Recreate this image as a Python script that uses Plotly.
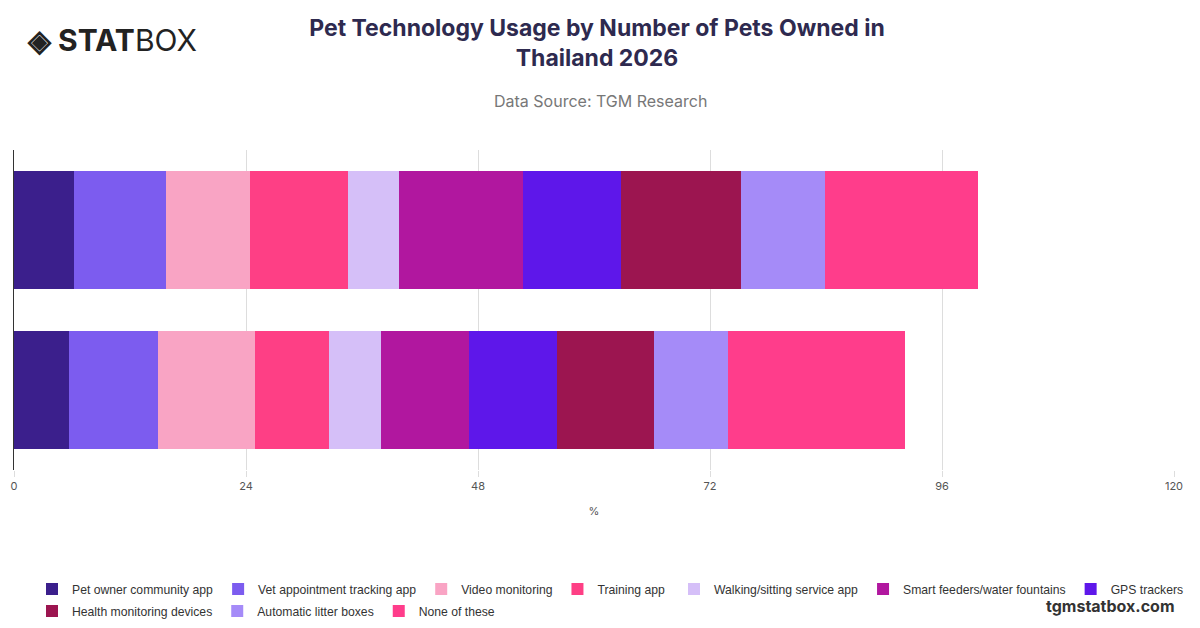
import plotly.graph_objects as go

categories = ["1 pet", "2+ pets"]
series = ["Pet owner community app", "Vet appointment tracking app", "Video monitoring", "Training app",
          "Walking/sitting service app", "Smart feeders/water fountains", "GPS trackers",
          "Health monitoring devices", "Automatic litter boxes", "None of these"]
values_top = [6.2, 9.5, 8.7, 10.1, 5.3, 12.9, 10.1, 12.4, 8.7, 15.8]
values_bottom = [5.7, 9.2, 10.0, 7.7, 5.4, 9.1, 9.1, 10.0, 7.7, 18.3]
colors = ["#3b1f8c", "#7c5cef", "#f9a4c4", "#fe3f85", "#d5bff8", "#b1179f", "#5e17ea", "#9c1550", "#a58bf8", "#ff3d8b"]

fig = go.Figure()
for i, name in enumerate(series):
    leg = "legend" if i < 4 else ("legend2" if i < 7 else "legend3")
    fig.add_trace(go.Bar(orientation="h", name=name, y=[categories[1], categories[0]],
                         x=[values_bottom[i], values_top[i]], marker=dict(color=colors[i], line_width=0),
                         legend=leg))

O = 8
L, R, T, B = 14 - O, 1174 - O, 150 - O, 470 - O
legfont = dict(size=12.2, color="#333", family="Liberation Sans, Arial, sans-serif")
def legd(xpix, ypix):
    return dict(orientation="h", x=(xpix - O) / 1200, y=1 - (ypix - O) / 628, xref="container", yref="container",
                xanchor="left", yanchor="middle", font=legfont, traceorder="normal", itemwidth=30)
fig.update_layout(
    barmode="stack", bargap=0.26, width=1200, height=628, plot_bgcolor="white", paper_bgcolor="white",
    font=dict(family="Inter, Roboto, sans-serif", color="#555"),
    margin=dict(l=L, r=1200 - R, t=T, b=628 - B, autoexpand=False),
    title=dict(text="<b>Pet Technology Usage by Number of Pets Owned in<br>Thailand 2026</b>",
               x=(597 - O) / 1200, xanchor="center", yref="container", y=1 - (36 - O) / 628, yanchor="top",
               font=dict(size=23, color="#2e2a4f")),
    xaxis=dict(range=[0, 120], tickvals=[0, 24, 48, 72, 96, 120], showgrid=True, gridcolor="#dddddd",
               zeroline=False, title=dict(text="%", font=dict(size=11)), tickfont=dict(size=11, color="#555"),
               ticks="outside", ticklen=6, tickcolor="#ddd"),
    yaxis=dict(showticklabels=False, showline=True, linecolor="#333", linewidth=1),
    legend=legd(32, 589), legend2=legd(674, 589), legend3=legd(32, 611),
)
def py(pix):
    return (B - (pix - O)) / (B - T)
def px(pix):
    return ((pix - O) - L) / (R - L)
fig.add_annotation(text="Data Source: TGM Research", xref="paper", yref="paper", x=px(600), y=py(101),
                   showarrow=False, font=dict(size=16, color="#777"), xanchor="center", yanchor="middle")
fig.add_annotation(text="<b>◈ STAT</b>BOX", xref="paper", yref="paper", x=px(25), y=py(40),
                   showarrow=False, font=dict(size=30, color="#222"), xanchor="left", yanchor="middle")
fig.add_annotation(text="<b>tgmstatbox.com</b>", xref="paper", yref="paper", x=px(1177), y=py(606),
                   showarrow=False, font=dict(size=16, color="#333"), xanchor="right", yanchor="middle")
fig.write_html("out.html")
